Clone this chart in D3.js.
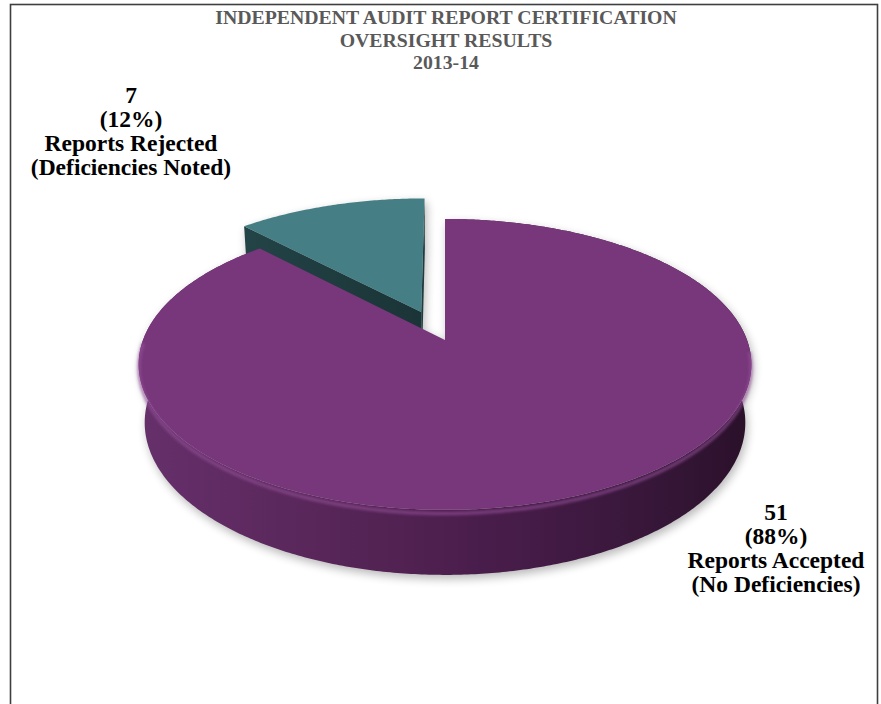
<!DOCTYPE html>
<html>
<head>
<meta charset="utf-8">
<script src="https://cdn.jsdelivr.net/npm/d3@7"></script>
<style>
  html, body { margin: 0; padding: 0; background: #fff; }
  svg { display: block; }
</style>
</head>
<body>
<svg id="chart" width="881" height="704"></svg>
<script>
// ---- data ----
const titleLines = ["INDEPENDENT AUDIT REPORT CERTIFICATION", "OVERSIGHT RESULTS", "2013-14"];
const categories = ["Reports Accepted", "Reports Rejected"];
const notes = ["(No Deficiencies)", "(Deficiencies Noted)"];
const values = [51, 7];

// ---- styling ----
const topColors = ["#77377a", "#457e84"];
const sideColors = ["#4e2252", "#1f3c3f"];

const svg = d3.select("#chart");

// frame
svg.append("rect")
  .attr("x", 10.5).attr("y", 4.5)
  .attr("width", 867).attr("height", 720)
  .attr("fill", "none").attr("stroke", "#3f3f3f").attr("stroke-width", 1.6);

// ---- perspective projection of a tilted disc (units of radius) ----
const CX = 445, CY = 340, S = 302, K = 0.19;
const tilt = Math.asin(0.468), sa = Math.sin(tilt), ca = Math.cos(tilt);
const DEPTH = 0.22, EXPLODE = 0.22;

function proj(x, z, y) {
  const d = 1 + K * (z * ca - y * sa);
  return [CX + S * x / d, CY - S * (z * sa + y * ca) / d];
}

const pie = d3.pie().sort(null).startAngle(0).endAngle(2 * Math.PI);
const arcs = pie(values);
const total = d3.sum(values);
const pct = d3.format(".0%");

function offsetOf(i) {
  if (i !== 1) return [0, 0];
  const mid = (arcs[i].startAngle + arcs[i].endAngle) / 2;
  return [Math.sin(mid) * EXPLODE, Math.cos(mid) * EXPLODE];
}
function rimPoint(a, off, y) {
  return proj(Math.sin(a) + off[0], Math.cos(a) + off[1], y);
}
function arcSamples(a0, a1) {
  const n = Math.max(8, Math.ceil(Math.abs(a1 - a0) / 0.01));
  return d3.range(n + 1).map(k => a0 + (a1 - a0) * k / n);
}
const line = d3.line().curve(d3.curveLinearClosed);

function topFace(i) {
  const a = arcs[i], off = offsetOf(i);
  const pts = [proj(off[0], off[1], 0)];
  arcSamples(a.startAngle, a.endAngle).forEach(t => pts.push(rimPoint(t, off, 0)));
  return line(pts);
}
function sideBand(i, a0, a1) {
  const off = offsetOf(i);
  const s = arcSamples(a0, a1);
  const pts = s.map(t => rimPoint(t, off, 0))
    .concat(s.slice().reverse().map(t => rimPoint(t, off, -DEPTH)));
  return line(pts);
}
function radialFace(i, a) {
  const off = offsetOf(i);
  return line([proj(off[0], off[1], 0), rimPoint(a, off, 0),
               rimPoint(a, off, -DEPTH), proj(off[0], off[1], -DEPTH)]);
}

// ---- defs ----
const defs = svg.append("defs");
const blur = defs.append("filter").attr("id", "shadowBlur")
  .attr("x", "-20%").attr("y", "-20%").attr("width", "140%").attr("height", "140%");
blur.append("feGaussianBlur").attr("stdDeviation", 5);
const soft = defs.append("filter").attr("id", "soft")
  .attr("x", "-10%").attr("y", "-10%").attr("width", "120%").attr("height", "120%");
soft.append("feGaussianBlur").attr("stdDeviation", 1.4);

const sideGrad = defs.append("linearGradient").attr("id", "sideGrad")
  .attr("gradientUnits", "userSpaceOnUse")
  .attr("x1", 140).attr("y1", 0).attr("x2", 752).attr("y2", 0);
[[0, "#66306b"], [0.3, "#582659"], [0.6, "#471c49"], [0.85, "#361638"], [1, "#2a1029"]]
  .forEach(([o, c]) => sideGrad.append("stop").attr("offset", o).attr("stop-color", c));

const tealSideGrad = defs.append("linearGradient").attr("id", "tealSide")
  .attr("gradientUnits", "userSpaceOnUse")
  .attr("x1", 240).attr("y1", 0).attr("x2", 430).attr("y2", 0);
[[0, "#234447"], [1, "#1a3336"]]
  .forEach(([o, c]) => tealSideGrad.append("stop").attr("offset", o).attr("stop-color", c));

// ---- soft drop shadow ----
const shadow = svg.append("g").attr("filter", "url(#shadowBlur)")
  .attr("transform", "translate(2,4)").attr("fill", "#000").attr("opacity", 0.28);
arcs.forEach((a, i) => {
  shadow.append("path").attr("d", topFace(i));
  shadow.append("path").attr("d", sideBand(i, a.startAngle, a.endAngle));
  shadow.append("path").attr("d", radialFace(i, a.startAngle));
  shadow.append("path").attr("d", radialFace(i, a.endAngle));
});

// ---- exploded slice (behind) ----
const g = svg.append("g");
g.append("path").attr("d", radialFace(1, arcs[1].endAngle)).attr("fill", sideColors[1]);
g.append("path").attr("d", radialFace(1, arcs[1].startAngle)).attr("fill", "url(#tealSide)");
g.append("path").attr("d", topFace(1)).attr("fill", topColors[1]);

// ---- main slice ----
g.append("path").attr("d", sideBand(0, arcs[0].startAngle, arcs[0].endAngle))
  .attr("fill", "url(#sideGrad)");
g.append("path").attr("d", topFace(0)).attr("fill", topColors[0]);

// bevel highlight along the front rim
const frontRim = d3.line()(arcSamples(Math.PI * 0.52, Math.PI * 1.5).map(t => rimPoint(t, [0, 0], -0.012)));
g.append("path").attr("d", frontRim)
  .attr("fill", "none").attr("stroke", "#94509a").attr("stroke-width", 3)
  .attr("opacity", 0.75).attr("filter", "url(#soft)");

// ---- title ----
svg.append("g")
  .attr("font-family", "'Liberation Serif', 'Times New Roman', serif")
  .attr("font-weight", "bold").attr("font-size", 19.8).attr("fill", "#595959")
  .attr("text-anchor", "middle")
  .selectAll("text").data(titleLines).join("text")
  .attr("x", 446).attr("y", (d, i) => 24 + i * 22.5)
  .text(d => d);

// ---- slice labels ----
const labelPos = [[776, 519.5], [131, 102.5]];
arcs.forEach((a, i) => {
  const lines = [String(values[i]), "(" + pct(values[i] / total) + ")", categories[i], notes[i]];
  svg.append("g")
    .attr("font-family", "'Liberation Serif', 'Times New Roman', serif")
    .attr("font-weight", "bold").attr("font-size", 23.5).attr("fill", "#000")
    .attr("text-anchor", "middle")
    .selectAll("text").data(lines).join("text")
    .attr("x", labelPos[i][0]).attr("y", (d, k) => labelPos[i][1] + k * 24)
    .text(d => d);
});
</script>
</body>
</html>
